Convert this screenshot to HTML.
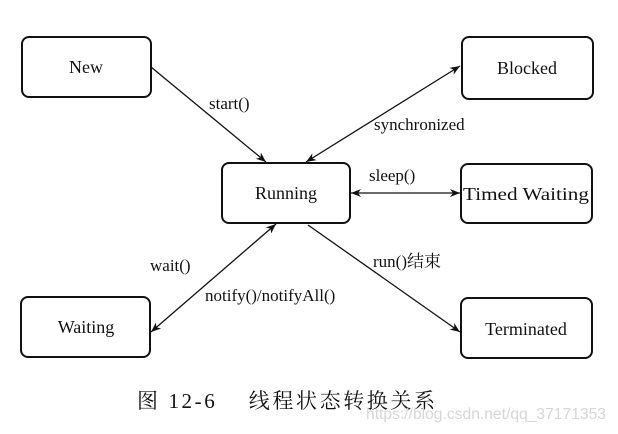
<!DOCTYPE html>
<html><head><meta charset="utf-8"><style>
html,body{margin:0;padding:0;background:#fff;width:618px;height:434px;overflow:hidden}
svg{display:block}
text{font-family:"Liberation Serif","Noto Serif CJK SC",serif;fill:#111}
</style></head><body>
<svg width="618" height="434" viewBox="0 0 618 434">
<defs>
<marker id="a" viewBox="0 0 10 10" refX="10" refY="5" markerWidth="10" markerHeight="10" orient="auto-start-reverse" markerUnits="userSpaceOnUse">
<path d="M0,1 L10,5 L0,9 L3,5 z" fill="#111"/></marker>
</defs>
<g fill="#fff" stroke="#111" stroke-width="2">
<rect x="22" y="37" width="129" height="60" rx="7"/>
<rect x="462" y="37" width="131" height="62" rx="7"/>
<rect x="222" y="163" width="128" height="60" rx="7"/>
<rect x="461" y="164" width="131" height="59" rx="7"/>
<rect x="21" y="297" width="129" height="60" rx="7"/>
<rect x="461" y="298" width="131" height="60" rx="7"/>
</g>
<g stroke="#111" stroke-width="1.3" fill="none">
<line x1="151" y1="67" x2="266" y2="162" marker-end="url(#a)"/>
<line x1="460" y1="66" x2="306" y2="162" marker-start="url(#a)" marker-end="url(#a)"/>
<line x1="351" y1="193" x2="460" y2="193" marker-start="url(#a)" marker-end="url(#a)"/>
<line x1="276" y1="224" x2="151" y2="332" marker-start="url(#a)" marker-end="url(#a)"/>
<line x1="308" y1="225" x2="460" y2="332" marker-end="url(#a)"/>
</g>
<g font-size="18" text-anchor="middle">
<text x="86" y="73">New</text>
<text x="527" y="74">Blocked</text>
<text x="286" y="199">Running</text>
<text x="526" y="200" textLength="126" lengthAdjust="spacingAndGlyphs">Timed Waiting</text>
<text x="86" y="333">Waiting</text>
<text x="526" y="335">Terminated</text>
</g>
<g font-size="17">
<text x="209" y="109">start()</text>
<text x="374" y="130">synchronized</text>
<text x="369" y="181">sleep()</text>
<text x="150" y="271">wait()</text>
<text x="205" y="301">notify()/notifyAll()</text>
<text x="373" y="267">run()结束</text>
</g>
<text x="137" y="408" font-size="21" textLength="298" lengthAdjust="spacing">图 12-6　 线程状态转换关系</text>
<text x="366" y="419" font-size="16" textLength="240" lengthAdjust="spacingAndGlyphs" style="font-family:'Liberation Sans',sans-serif;fill:#d6d6d6">https://blog.csdn.net/qq_37171353</text>
</svg>
</body></html>
